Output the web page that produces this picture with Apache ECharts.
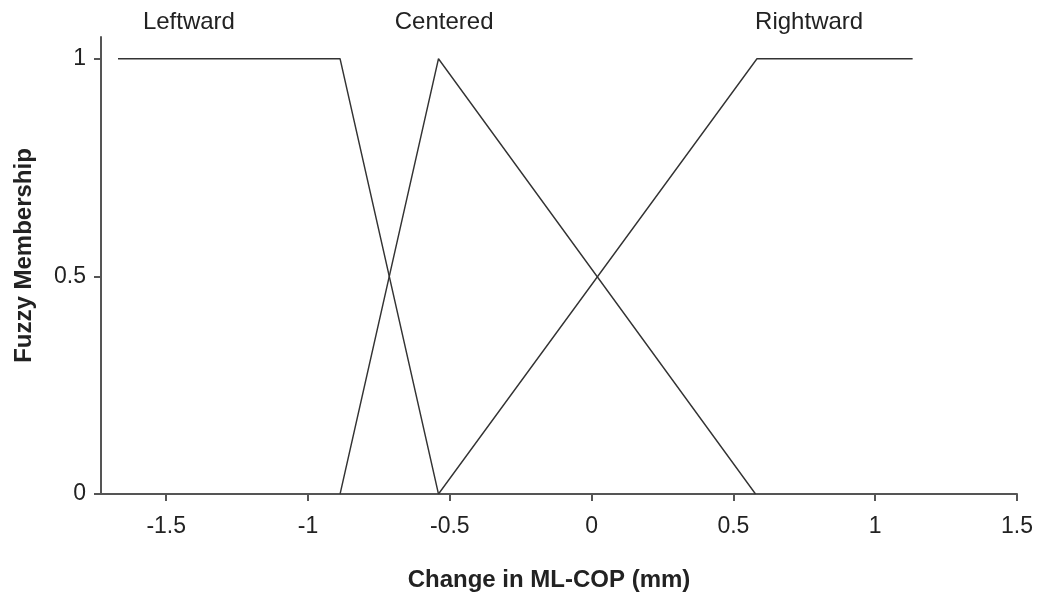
<!DOCTYPE html>
<html>
<head>
<meta charset="utf-8">
<style>
  html, body { margin: 0; padding: 0; background: #fff; }
  #chart { width: 1038px; height: 599px; }
</style>
<script src="https://cdn.jsdelivr.net/npm/echarts@6/dist/echarts.min.js"></script>
</head>
<body>
<div id="chart"></div>
<script>
// Membership function breakpoints [x, membership]
const leftward  = [[-1.67, 1], [-0.887, 1], [-0.54, 0]];
const centered  = [[-0.887, 0], [-0.54, 1], [0.578, 0]];
const rightward = [[-0.54, 0], [0.583, 1], [1.132, 1]];

const setNames = ['Leftward', 'Centered', 'Rightward'];
const setLabelX = [-1.42, -0.52, 0.767];

const xTicks = [-1.5, -1, -0.5, 0, 0.5, 1, 1.5];
const yTicks = [0, 0.5, 1];

const FONT = '"Liberation Sans", Arial, Helvetica, sans-serif';
const lineColor = '#333333';
const axisColor = '#555555';

const chart = echarts.init(document.getElementById('chart'), null, { renderer: 'canvas' });

function lineSeries(name, data) {
  return {
    name: name,
    type: 'line',
    data: data,
    symbol: 'none',
    silent: true,
    animation: false,
    lineStyle: { color: lineColor, width: 1.4 },
    z: 3
  };
}

const option = {
  backgroundColor: '#ffffff',
  animation: false,
  grid: { left: 101, right: 21, top: 37, bottom: 105, containLabel: false },
  xAxis: {
    type: 'value',
    min: -1.73,
    max: 1.5,
    name: 'Change in ML-COP (mm)',
    nameLocation: 'middle',
    nameGap: 74,
    nameTextStyle: { fontFamily: FONT, fontSize: 24, fontWeight: 'bold', color: '#222', padding: [0, 20, 0, 0] },
    axisLine: { show: true, onZero: false, lineStyle: { color: axisColor, width: 2 } },
    axisTick: { show: true, inside: false, length: 7, customValues: xTicks, lineStyle: { color: axisColor, width: 2 } },
    axisLabel: {
      customValues: xTicks,
      margin: 21,
      fontFamily: FONT, fontSize: 23, color: '#222',
      formatter: v => String(v)
    },
    splitLine: { show: false }
  },
  yAxis: {
    type: 'value',
    min: 0,
    max: 1.05,
    name: 'Fuzzy Membership',
    nameLocation: 'middle',
    nameGap: 65,
    nameRotate: 90,
    nameTextStyle: { fontFamily: FONT, fontSize: 24, fontWeight: 'bold', color: '#222', padding: [0, 0, 0, 20] },
    axisLine: { show: true, onZero: false, lineStyle: { color: axisColor, width: 2 } },
    axisTick: { show: true, inside: false, length: 7, customValues: yTicks, lineStyle: { color: axisColor, width: 2 } },
    axisLabel: {
      customValues: yTicks,
      margin: 15,
      fontFamily: FONT, fontSize: 23, color: '#222',
      formatter: v => String(v)
    },
    splitLine: { show: false }
  },
  series: [
    lineSeries(setNames[0], leftward),
    lineSeries(setNames[1], centered),
    lineSeries(setNames[2], rightward)
  ]
};

chart.setOption(option);

// Set-name labels above the plot, positioned through the x scale
const labelGraphics = setNames.map((name, i) => {
  const px = chart.convertToPixel({ gridIndex: 0 }, [setLabelX[i], 0])[0];
  return {
    type: 'text',
    x: px,
    y: 22,
    style: {
      text: name,
      fontFamily: FONT,
      fontSize: 24,
      fill: '#222',
      align: 'center',
      verticalAlign: 'middle'
    }
  };
});
chart.setOption({ graphic: labelGraphics });
</script>
</body>
</html>
